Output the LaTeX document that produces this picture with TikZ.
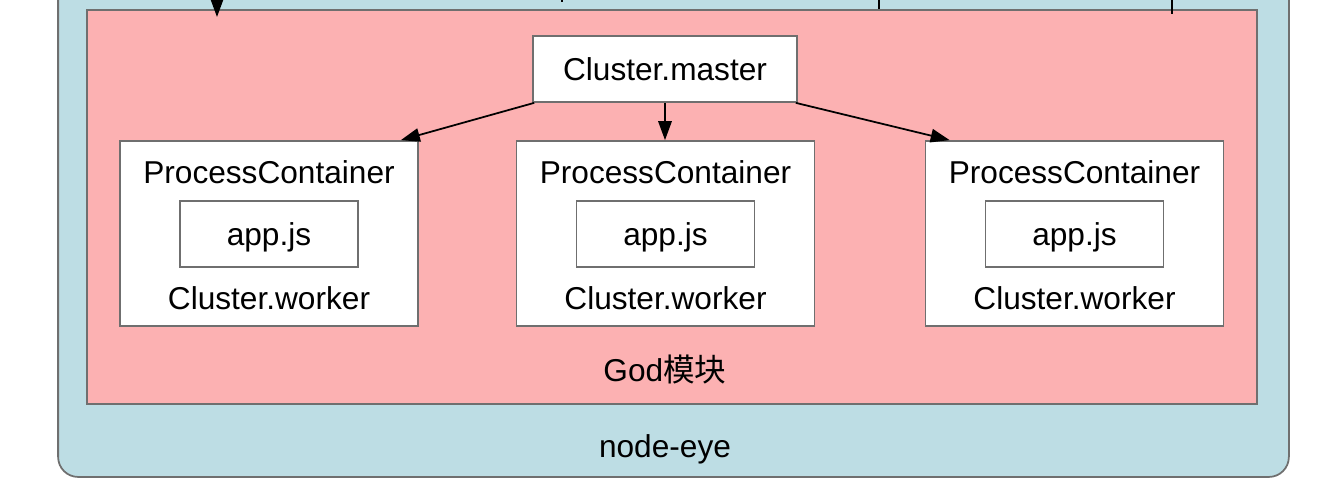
\documentclass[tikz,border=0pt]{standalone}
\usepackage{fontspec}
\setmainfont{Liberation Sans}
\newfontfamily\cjk{Noto Sans CJK SC}
\usepackage{tikz}
\usetikzlibrary{
    arrows.meta,
    calc
}

\definecolor{eyeblue}{HTML}{BDDDE4}
\definecolor{godpink}{HTML}{FCB1B2}
\definecolor{edgegray}{HTML}{6F6F6F}

\begin{document}
\begin{tikzpicture}[x=0.02cm,y=-0.02cm,
    font=\fontsize{18}{22}\selectfont,
    box/.style={draw=edgegray,line width=1pt,fill=white,inner sep=0pt},
    wire/.style={line width=1pt},
    arr/.style={wire,-{Triangle[length=0.38cm,width=0.27cm]}}
]
\clip (0,0) rectangle (1330,504);

% node-eye frame
\node[draw=edgegray,line width=1pt,fill=eyeblue,rounded corners=0.4cm,
      minimum width=24.62cm,minimum height=10.34cm,inner sep=0pt] (eye) at (673.5,218.5) {};
\node (eyelabel) at (665,449) {node-eye};

% God module
\node[draw=edgegray,line width=1pt,fill=godpink,
      minimum width=23.4cm,minimum height=7.88cm,inner sep=0pt] (god) at (672,207) {};
\node (godlabel) at (665,370) {God{\cjk 模块}};

% Master
\node[box,minimum width=5.28cm,minimum height=1.32cm] (master) at (665,69) {Cluster.master};

% Workers
\foreach \i/\x in {1/269,2/665.5,3/1074.5}{
    \node[box,minimum width=5.96cm,minimum height=3.7cm] (pc\i) at (\x,233.5) {};
    \node (pcname\i) at (\x,172) {ProcessContainer};
    \node[box,text depth=0pt,minimum width=3.56cm,minimum height=1.32cm] (app\i) at (\x,234) {app.js};
    \node (worker\i) at (\x,298) {Cluster.worker};
}

% Master to workers
\draw[arr] ($(master.south west)+(2,0)$) -- ($(pc1.north east)+(-18,0)$);
\draw[arr] (master.south) -- (master.south |- pc2.north);
\draw[arr] ($(master.south east)+(-2,0)$) -- ($(pc3.north west)+(25,0)$);

% Incoming from above
\coordinate (in1) at (217,-40);
\coordinate (in1end) at (217,17);
\coordinate (in2) at (562,-40);
\coordinate (in2end) at (562,2);
\coordinate (in3) at (879,-40);
\coordinate (in4) at (1172,-40);
\coordinate (in4end) at (1172,14);
\draw[arr] (in1) -- (in1end);
\draw[wire] (in2) -- (in2end);
\draw[wire] (in3) -- (in3 |- god.north);
\draw[wire] (in4) -- (in4end);

\end{tikzpicture}
\end{document}
